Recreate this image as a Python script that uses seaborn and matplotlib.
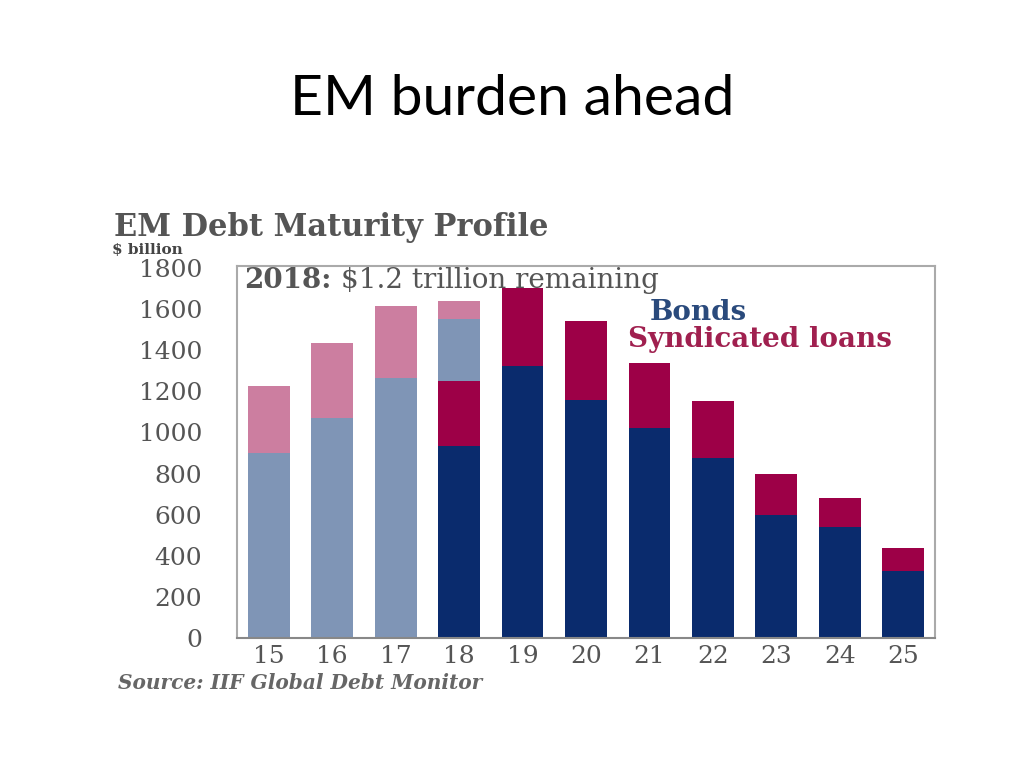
import matplotlib
matplotlib.use("Agg")
import matplotlib.pyplot as plt
import pandas as pd
import seaborn as sns

# Data ($ billion)
years = ["15", "16", "17", "18", "19", "20", "21", "22", "23", "24", "25"]
bonds = [900, 1070, 1265, 934, 1323, 1158, 1022, 876, 598, 540, 326]
loans = [326, 365, 350, 316, 380, 384, 316, 277, 200, 141, 112]
matured_2018_bonds = 302
matured_2018_loans = 88
y_ticks = [0, 200, 400, 600, 800, 1000, 1200, 1400, 1600, 1800]

past_years = ["15", "16", "17"]
c_bond_dark = "#0a2b6d"
c_loan_dark = "#9d0047"
c_bond_light = "#7f95b6"
c_loan_light = "#cc7ea0"
c_text = "#555555"

# segments per bar, bottom-up, then turned into layers of cumulative tops
rows = []
for yr, b, l in zip(years, bonds, loans):
    if yr in past_years:
        segs = [(b, c_bond_light), (l, c_loan_light)]
    elif yr == "18":
        segs = [(b, c_bond_dark), (l, c_loan_dark),
                (matured_2018_bonds, c_bond_light), (matured_2018_loans, c_loan_light)]
    else:
        segs = [(b, c_bond_dark), (l, c_loan_dark)]
    tops = []
    run = 0
    for v, c in segs:
        run += v
        tops.append((run, c))
    for layer, (top, c) in enumerate(reversed(tops)):
        rows.append({"year": yr, "top": top, "color": c, "layer": layer})
df = pd.DataFrame(rows)

sns.set_style("white")
plt.rcParams["font.family"] = ["DejaVu Serif"]

fig = plt.figure(figsize=(10.24, 7.68), dpi=100)
ax = fig.add_axes([237 / 1024, 1 - 638 / 768, (935 - 237) / 1024, (638 - 266) / 768])

for layer in sorted(df["layer"].unique()):
    sub = df[df["layer"] == layer]
    sns.barplot(data=sub, x="year", y="top", hue="year", order=years,
                palette=dict(zip(sub["year"], sub["color"])), legend=False,
                width=0.66, saturation=1, linewidth=0, ax=ax)

ax.set_xlim(-0.5, 10.5)
ax.set_ylim(0, 1810)
ax.set_yticks(y_ticks)
ax.set_yticklabels([str(t) for t in y_ticks])
ax.set_xlabel("")
ax.set_ylabel("")
ax.tick_params(axis="y", length=0, pad=25, labelsize=18, labelcolor=c_text)
ax.tick_params(axis="x", length=0, pad=5, labelsize=18, labelcolor=c_text)
for s in ax.spines.values():
    s.set_visible(True)
    s.set_color("#aaaaaa")
    s.set_linewidth(1.5)
ax.spines["bottom"].set_color("#888888")

# slide title
fig.text(512 / 1024, 1 - 115 / 768, "EM burden ahead", ha="center", va="baseline",
         fontsize=41, family="Lato", color="black")

# chart header texts
fig.text(114 / 1024, 1 - 236 / 768, "EM Debt Maturity Profile", ha="left", va="baseline",
         fontsize=22, fontweight="bold", color=c_text)
fig.text(112 / 1024, 1 - 254 / 768, "$ billion", ha="left", va="baseline",
         fontsize=11, fontweight="bold", color="#444444")

t18 = fig.text(244 / 1024, 1 - 288 / 768, "2018:", ha="left", va="baseline",
               fontsize=20, fontweight="bold", color=c_text)
ax.annotate("$1.2 trillion remaining", xy=(1, 0), xycoords=t18,
            xytext=(7, 0), textcoords="offset points", ha="left", va="bottom",
            fontsize=20, color=c_text, annotation_clip=False)

fig.text(650 / 1024, 1 - 320 / 768, "Bonds", ha="left", va="baseline",
         fontsize=20, fontweight="bold", color="#2a4a7c")
fig.text(628 / 1024, 1 - 347 / 768, "Syndicated loans", ha="left", va="baseline",
         fontsize=20, fontweight="semibold", color="#a0204f")

fig.text(118 / 1024, 1 - 689 / 768, "Source: IIF Global Debt Monitor", ha="left", va="baseline",
         fontsize=14.5, fontstyle="italic", fontweight="bold", color="#666666")

fig.savefig("out.png", dpi=100)
